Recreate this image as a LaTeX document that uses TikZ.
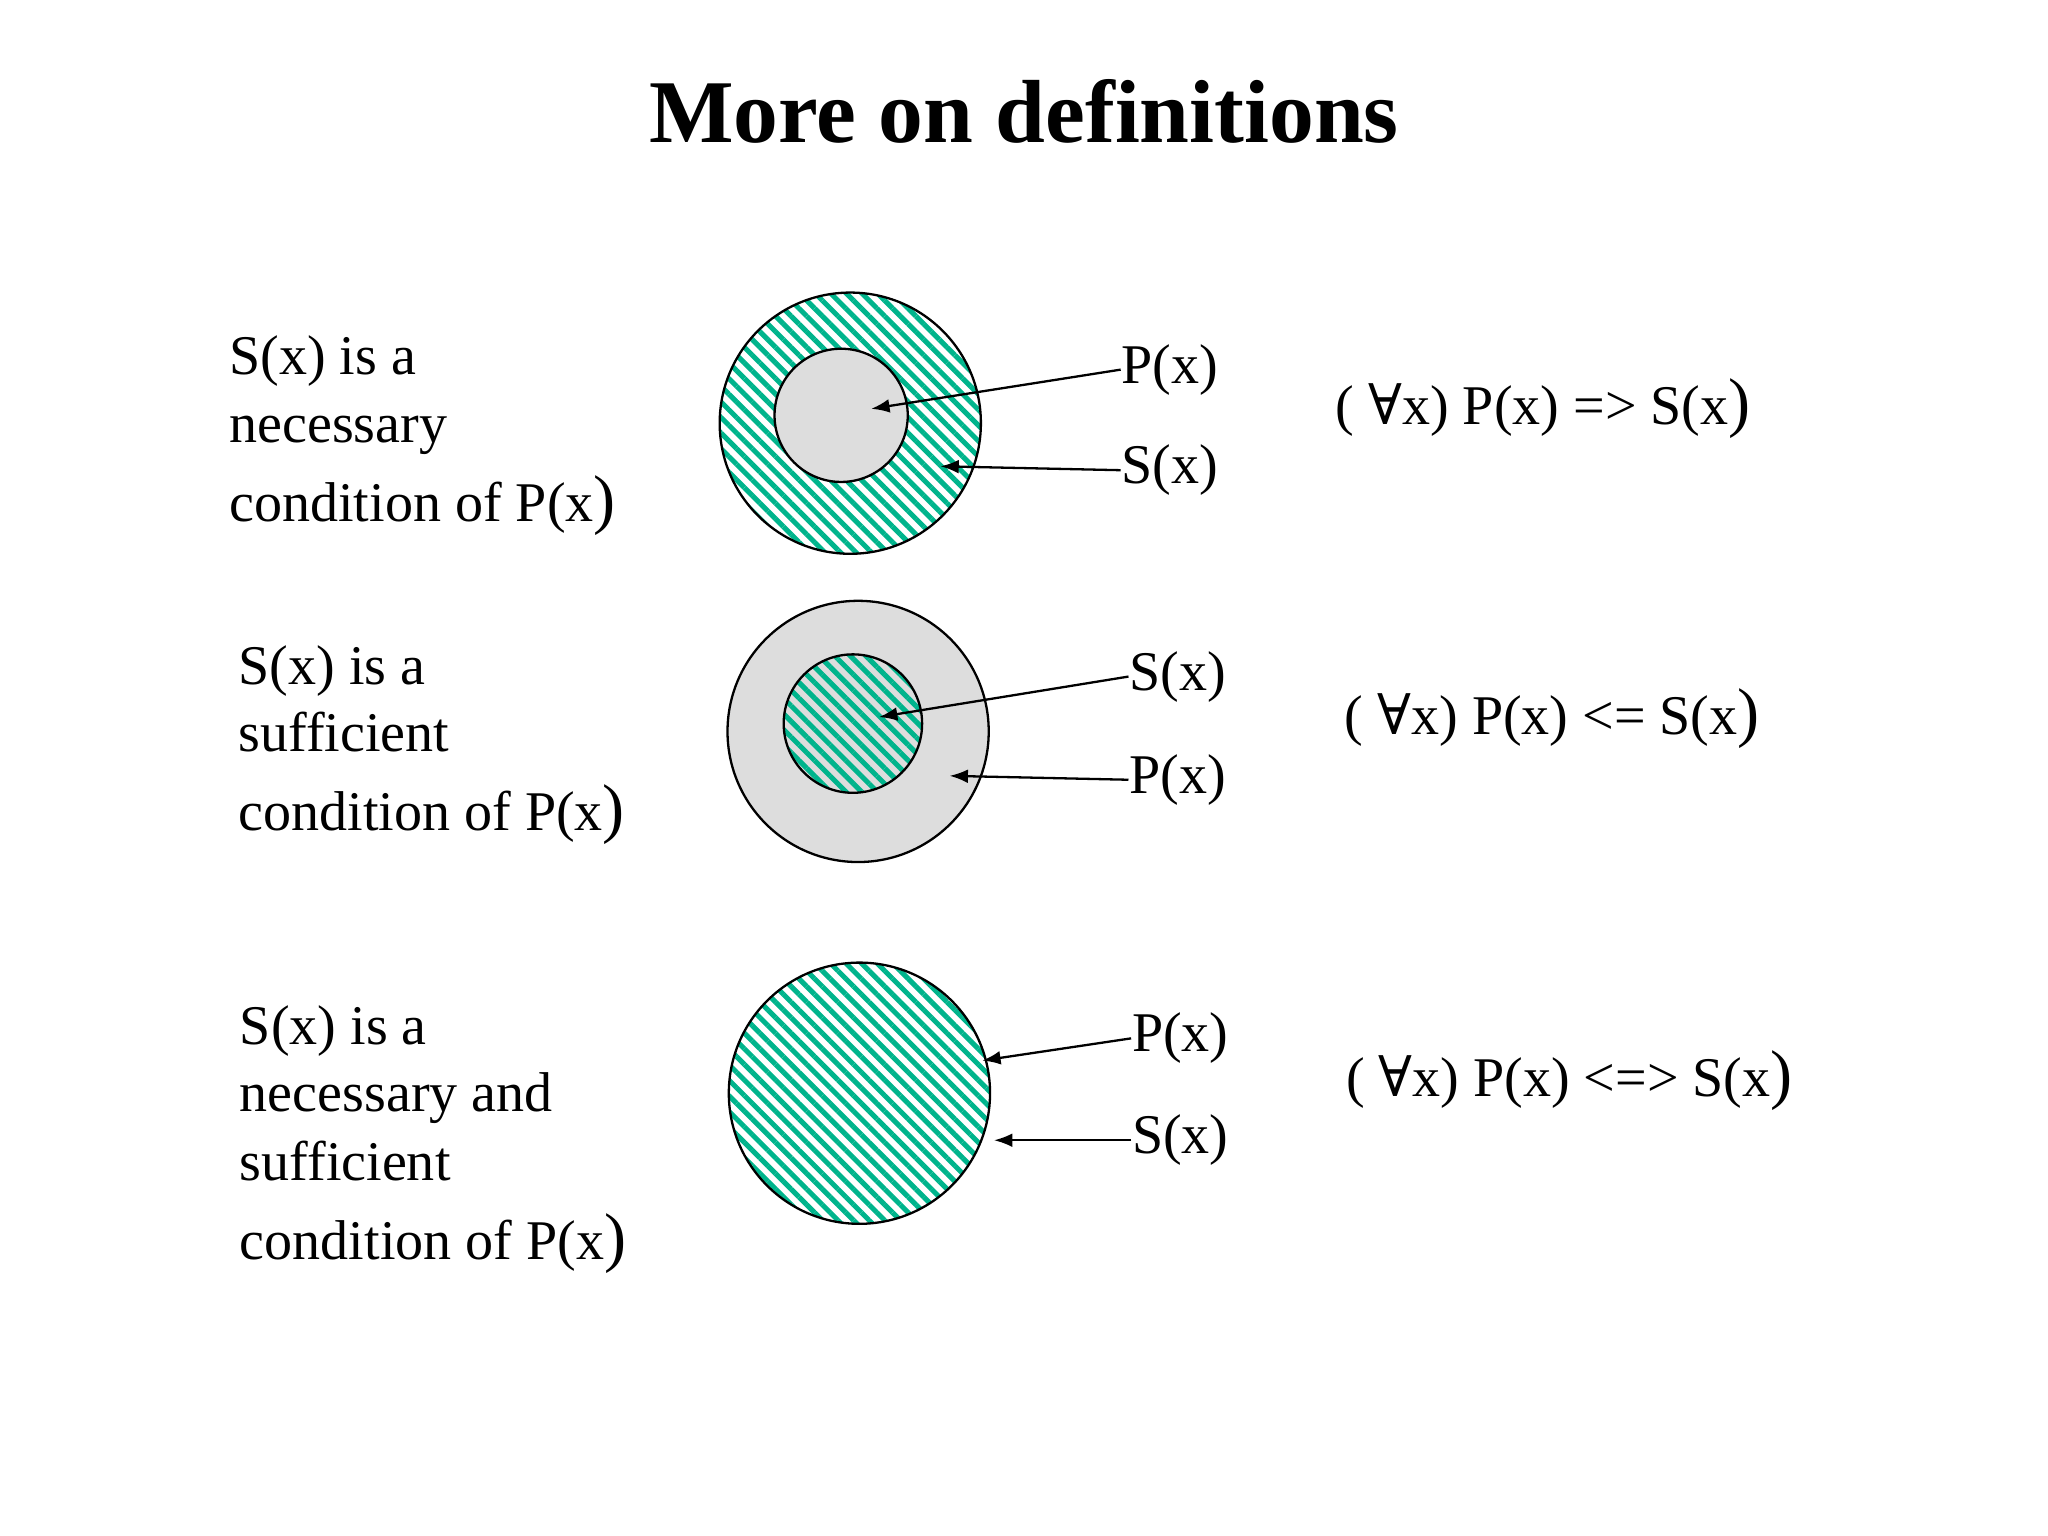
\documentclass[tikz,border=0pt]{standalone}
\usepackage{fontspec}
\setmainfont{Liberation Serif}
\newfontfamily\symfont{DejaVu Serif}
\newcommand{\fa}{{\symfont ∀}}
\usetikzlibrary{patterns.meta,arrows.meta}
\definecolor{hatch}{RGB}{0,180,140}
\definecolor{fillgray}{RGB}{221,221,221}
\tikzset{
  txt/.style={anchor=base west,inner sep=0pt,font=\fontsize{12.2}{14}\selectfont},
  lab/.style={anchor=west,inner sep=0pt,font=\fontsize{12.2}{14}\selectfont},
  hatched/.style={draw=black,line width=0.5pt,pattern={Lines[angle=-45,distance=2.4pt,line width=1.1pt]},pattern color=hatch},
  grayc/.style={draw=black,line width=0.5pt,fill=fillgray},
  arr/.style={-{Latex[length=4pt,width=3pt]},line width=0.5pt}
}
\begin{document}
\begin{tikzpicture}[x=0.01cm,y=-0.01cm]
\useasboundingbox (0,0) rectangle (1568,1176);
\node[inner sep=0pt,font=\bfseries\fontsize{19.5}{22}\selectfont] (title) at (784,85) {More on definitions};
% row 1
\node[txt] (t11) at (175,287) {S(x) is a};
\node[txt] (t12) at (175,339) {necessary};
\node[txt] (t13) at (175,399) {condition of P(x\Large)};
\draw[hatched] (651,324) circle (100);
\draw[grayc] (644,318) circle (51);
\coordinate (a1) at (667,313);
\coordinate (a2) at (720,357);
\node[lab] (p1) at (858,283) {P(x)};
\node[lab] (s1) at (858,360) {S(x)};
\draw[arr] (p1.west) -- (a1);
\draw[arr] (s1.west) -- (a2);
\node[lab] (f1) at (1022,313) {( \fa x) P(x) => S(x\Large)};
% row 2
\node[txt] (t21) at (182,524) {S(x) is a};
\node[txt] (t22) at (182,575) {sufficient};
\node[txt] (t23) at (182,636) {condition of P(x\Large)};
\draw[grayc] (657,560) circle (100);
\draw[hatched] (653,554) circle (53);
\coordinate (b1) at (673,549);
\coordinate (b2) at (727,594);
\node[lab] (s2) at (864,518) {S(x)};
\node[lab] (p2) at (864,597) {P(x)};
\draw[arr] (s2.west) -- (b1);
\draw[arr] (p2.west) -- (b2);
\node[lab] (f2) at (1029,550) {( \fa x) P(x) <= S(x\Large)};
% row 3
\node[txt] (t31) at (183,800) {S(x) is a};
\node[txt] (t32) at (183,851) {necessary and};
\node[txt] (t33) at (183,904) {sufficient};
\node[txt] (t34) at (183,964) {condition of P(x\Large)};
\draw[hatched] (658,837) circle (100);
\coordinate (c1) at (752,812);
\coordinate (c2) at (761,873);
\node[lab] (p3) at (866,795) {P(x)};
\node[lab] (s3) at (866,873) {S(x)};
\draw[arr] (p3.west) -- (c1);
\draw[arr] (s3.west) -- (c2);
\node[lab] (f3) at (1030,827) {( \fa x) P(x) <=> S(x\Large)};
\end{tikzpicture}
\end{document}
